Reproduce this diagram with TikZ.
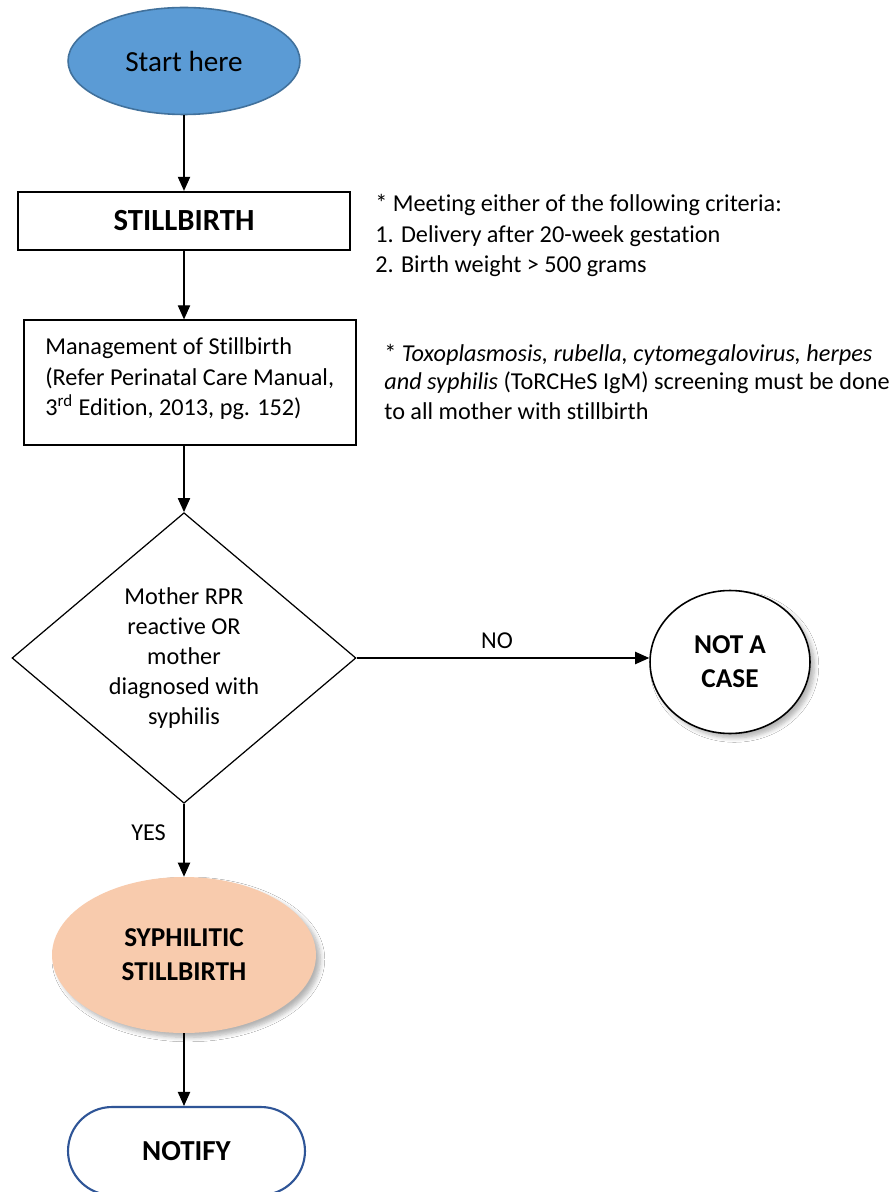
\documentclass[tikz,border=0pt]{standalone}
\usepackage{fontspec}
\setmainfont{Carlito}[Ligatures=NoCommon]
\usetikzlibrary{shapes.geometric,arrows.meta,shadows.blur}
\definecolor{startblue}{HTML}{5B9BD5}
\definecolor{startedge}{HTML}{41719C}
\definecolor{peach}{HTML}{F8CBAD}
\definecolor{notifyedge}{HTML}{2F5597}
\tikzset{
  flow/.style={draw=black, line width=0.7pt, -{Triangle[width=7pt,length=8pt]}},
  body/.style={font=\fontsize{13.8}{17}\selectfont, inner sep=0pt},
  boldtxt/.style={font=\fontsize{15.5}{19.5}\selectfont\bfseries, align=center},
  softshadow/.style={blur shadow={shadow blur steps=6, shadow xshift=2.5pt, shadow yshift=-2.5pt, shadow opacity=30, shadow blur radius=2.5pt}}
}
\begin{document}
\begin{tikzpicture}[x=0.02cm, y=-0.02cm]
  \clip (0,0) rectangle (891,1192);
  \fill[white] (0,0) rectangle (891,1192);

  % start terminal
  \node[ellipse, draw=startedge, line width=0.9pt, fill=startblue,
        minimum width=4.64cm, minimum height=2.14cm,
        font=\fontsize{16.6}{19}\selectfont] (start) at (184,61) {Start here};

  % stillbirth box and its criteria
  \node[rectangle, draw=black, line width=1.3pt, minimum width=6.64cm, minimum height=1.16cm,
        font=\fontsize{17.5}{20}\selectfont\bfseries] (still) at (184,221) {STILLBIRTH};
  \node[body, anchor=base west] (crit1) at (375,212) {* Meeting either of the following criteria:};
  \node[body, anchor=base west] (crit2) at (375,243) {1. Delivery after 20-week gestation};
  \node[body, anchor=base west] (crit3) at (375,273) {2. Birth weight > 500 grams};

  % management box
  \node[rectangle, draw=black, line width=0.7pt, minimum width=6.64cm, minimum height=2.5cm] (mgmt) at (190,382.5) {};
  \node[body, anchor=base west] (mg1) at (45,355) {Management of Stillbirth};
  \node[body, anchor=base west] (mg2) at (45,385) {(Refer Perinatal Care Manual,};
  \node[body, anchor=base west] (mg3) at (45,416) {3\textsuperscript{rd} Edition, 2013, pg. 152)};

  % screening note
  \node[body, anchor=base west] (tr1) at (384,361) {* \textit{Toxoplasmosis, rubella, cytomegalovirus, herpes}};
  \node[body, anchor=base west] (tr2) at (384,390) {\textit{and syphilis} (ToRCHeS IgM) screening must be done};
  \node[body, anchor=base west] (tr3) at (384,419) {to all mother with stillbirth};

  % decision
  \node[diamond, draw=black, line width=0.7pt, minimum width=6.88cm, minimum height=5.8cm,
        inner sep=0pt, align=center, font=\fontsize{13.8}{17}\selectfont] (dec) at (184,658)
        {Mother RPR\\reactive OR\\mother\\diagnosed with\\syphilis};

  % outcomes
  \node[ellipse, draw=black, line width=0.9pt, fill=white, softshadow,
        minimum width=3.2cm, minimum height=2.86cm, boldtxt] (notcase) at (730,662) {NOT A\\CASE};
  \node[ellipse, fill=peach, softshadow,
        minimum width=5.28cm, minimum height=3.12cm, boldtxt] (syph) at (184,955) {SYPHILITIC\\STILLBIRTH};
  \node[rectangle, rounded corners=0.88cm, draw=notifyedge, line width=1.2pt,
        minimum width=4.74cm, minimum height=1.76cm,
        font=\fontsize{16.5}{19}\selectfont\bfseries] (notify) at (186.5,1151) {NOTIFY};

  % connectors
  \draw[flow] (start.south) -- (still.north);
  \draw[flow] (still.south) -- (still.south |- mgmt.north);
  \draw[flow] (dec.north |- mgmt.south) -- (dec.north);
  \draw[flow] (dec.east) -- (dec.east -| notcase.west) node[pos=0.48, above=5pt, body] (nolbl) {NO};
  \draw[flow] (dec.south) -- (syph.north) node[pos=0.4, left=10pt, body] (yeslbl) {YES};
  \draw[flow] (syph.south) -- (syph.south |- notify.north);
\end{tikzpicture}
\end{document}
